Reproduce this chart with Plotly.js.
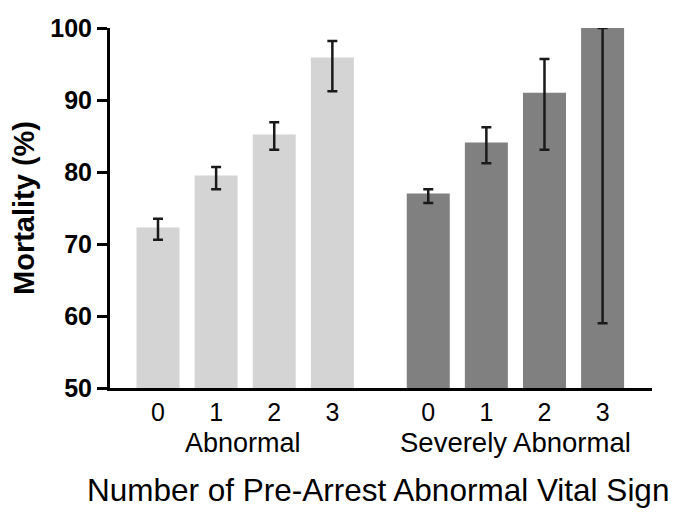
<!DOCTYPE html>
<html>
<head>
<meta charset="utf-8">
<script src="https://cdn.plot.ly/plotly-3.0.1.min.js"></script>
<style>html,body{margin:0;padding:0;background:#fff;}#chart{width:689px;height:521px;}</style>
</head>
<body>
<div id="chart"></div>
<script>
// Data
const categories = ['0', '1', '2', '3'];
const groups = ['Abnormal', 'Severely Abnormal'];
const abnormalMortality = [72.3, 79.5, 85.2, 95.9];
const abnormalUpper = [73.5, 80.7, 86.9, 98.2];
const abnormalLower = [70.6, 77.6, 83.1, 91.2];
const severeMortality = [77.0, 84.1, 91.0, 100.0];
const severeUpper = [77.6, 86.2, 95.7, 100.0];
const severeLower = [75.7, 81.2, 83.1, 59.0];
const yTicks = [50, 60, 70, 80, 90, 100];

// layout helpers
const groupOffset = 4.65;
const xPos = (g) => categories.map((c, i) => i + g * groupOffset);

function makeTrace(g, vals, up, lo, color) {
  return {
    type: 'bar',
    x: xPos(g),
    y: vals,
    base: 0,
    width: 0.74,
    marker: { color: color, line: { width: 0 } },
    error_y: {
      type: 'data',
      symmetric: false,
      array: vals.map((v, i) => up[i] - v),
      arrayminus: vals.map((v, i) => v - lo[i]),
      color: '#1a1a1a',
      thickness: 2.5,
      width: 5
    },
    cliponaxis: false,
    hoverinfo: 'skip',
    showlegend: false
  };
}

const traces = [
  makeTrace(0, abnormalMortality, abnormalUpper, abnormalLower, '#d4d4d4'),
  makeTrace(1, severeMortality, severeUpper, severeLower, '#808080')
];

const tickPositions = xPos(0).concat(xPos(1));
const tickTexts = categories.concat(categories);

const layout = {
  width: 689,
  height: 521,
  margin: { l: 110, r: 37, t: 28, b: 133 },
  paper_bgcolor: '#ffffff',
  plot_bgcolor: '#ffffff',
  font: { family: 'Liberation Sans, Arial, sans-serif', color: '#000' },
  xaxis: {
    range: [-0.826, 8.5],
    showgrid: false,
    zeroline: false,
    showline: true,
    linecolor: '#000',
    linewidth: 3,
    ticks: '',
    tickmode: 'array',
    tickvals: tickPositions,
    ticktext: tickTexts,
    tickfont: { size: 25, family: 'Liberation Sans, Arial, sans-serif' },
    ticklabelstandoff: 0
  },
  yaxis: {
    range: [50, 100],
    showgrid: false,
    zeroline: false,
    showline: true,
    linecolor: '#000',
    linewidth: 3,
    ticks: 'outside',
    ticklen: 10,
    tickwidth: 3,
    tickcolor: '#000',
    tickmode: 'array',
    tickvals: yTicks,
    ticktext: yTicks.map(String),
    tickfont: { size: 25, family: 'Liberation Sans, Arial, sans-serif', weight: 'bold' },
    title: { text: '<b>Mortality (%)</b>', font: { size: 29 }, standoff: 8 }
  },
  annotations: [
    { xref: 'x', yref: 'paper', x: 1.47, y: -0.152, text: groups[0], showarrow: false,
      xanchor: 'center', yanchor: 'middle', font: { size: 27 } },
    { xref: 'x', yref: 'paper', x: 1.5 + groupOffset, y: -0.152, text: groups[1], showarrow: false,
      xanchor: 'center', yanchor: 'middle', font: { size: 27.5 } },
    { xref: 'paper', yref: 'paper', x: 0.4945, y: -0.283, text: 'Number of Pre-Arrest Abnormal Vital Sign',
      showarrow: false, xanchor: 'center', yanchor: 'middle', font: { size: 31.5 } }
  ]
};

Plotly.newPlot('chart', traces, layout, { staticPlot: true, displayModeBar: false });
</script>
</body>
</html>
